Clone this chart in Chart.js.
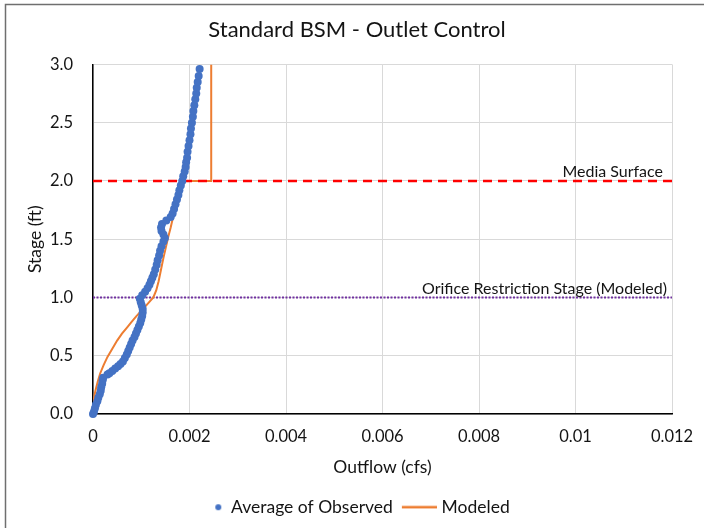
<!DOCTYPE html>
<html>
<head>
<meta charset="utf-8">
<script src="https://cdn.jsdelivr.net/npm/chart.js@4.4.1/dist/chart.umd.min.js"></script>
<style>
  html, body { margin: 0; padding: 0; background: #fff; }
  #chart { display: block; }
</style>
</head>
<body>
<canvas id="chart" width="704" height="528"></canvas>
<script>
// axis ticks
var xTickValues = [0, 0.002, 0.004, 0.006, 0.008, 0.01, 0.012];
var xTickLabels = ['0', '0.002', '0.004', '0.006', '0.008', '0.01', '0.012'];
var yTickValues = [0, 0.5, 1, 1.5, 2, 2.5, 3];
var yTickLabels = ['0.0', '0.5', '1.0', '1.5', '2.0', '2.5', '3.0'];

// average of observed events: stage (ft) vs outflow (cfs)
var observedStage = [
  0.00, 0.02, 0.05, 0.08, 0.11, 0.14, 0.17, 0.20, 0.23, 0.26, 0.29, 0.31,
  0.34, 0.35, 0.37, 0.39, 0.41, 0.43, 0.45, 0.48, 0.51, 0.54, 0.57, 0.60,
  0.63, 0.66, 0.69, 0.72, 0.75, 0.78, 0.81, 0.84, 0.87, 0.90, 0.93, 0.96,
  0.99, 1.02, 1.05, 1.08, 1.11, 1.14, 1.17, 1.20, 1.24, 1.28, 1.32, 1.36,
  1.40, 1.44, 1.48, 1.51, 1.54, 1.57, 1.60, 1.63, 1.66, 1.69, 1.72, 1.76,
  1.80, 1.84, 1.88, 1.92, 1.96, 2.00, 2.04, 2.08, 2.12, 2.16, 2.20, 2.25,
  2.30, 2.35, 2.40, 2.45, 2.50, 2.55, 2.60, 2.65, 2.70, 2.75, 2.80, 2.85,
  2.90, 2.96
];
var observedFlow = [
  0.00000, 0.00002, 0.00004, 0.00006, 0.00009, 0.00011, 0.00014, 0.00016, 0.00017, 0.00019, 0.00020, 0.00021,
  0.00030, 0.00034, 0.00040, 0.00046, 0.00052, 0.00057, 0.00062, 0.00066, 0.00070, 0.00073, 0.00076, 0.00079,
  0.00082, 0.00086, 0.00089, 0.00092, 0.00095, 0.00098, 0.00100, 0.00102, 0.00103, 0.00103, 0.00101, 0.00099,
  0.00097, 0.00102, 0.00108, 0.00113, 0.00117, 0.00120, 0.00123, 0.00126, 0.00129, 0.00132, 0.00134, 0.00137,
  0.00139, 0.00142, 0.00146, 0.00149, 0.00146, 0.00142, 0.00141, 0.00143, 0.00152, 0.00161, 0.00165, 0.00168,
  0.00171, 0.00174, 0.00177, 0.00179, 0.00182, 0.00185, 0.00187, 0.00190, 0.00192, 0.00193, 0.00195, 0.00196,
  0.00198, 0.00200, 0.00202, 0.00203, 0.00205, 0.00207, 0.00208, 0.00210, 0.00212, 0.00214, 0.00215, 0.00217,
  0.00219, 0.00221
];

// modeled rating curve
var modeledFlow = [
  0, 0.000005, 0.00002, 0.00005, 0.0001, 0.00015, 0.00022, 0.0003, 0.0004, 0.0005,
  0.0006, 0.0007, 0.0008, 0.0009, 0.001, 0.0011, 0.00125, 0.00131, 0.00136, 0.00141,
  0.00146, 0.00151, 0.00156, 0.00161, 0.00166, 0.00171, 0.00177, 0.00183, 0.00245, 0.00245
];
var modeledStage = [
  0, 0.05, 0.12, 0.2, 0.28, 0.35, 0.42, 0.49, 0.56, 0.63,
  0.69, 0.74, 0.79, 0.84, 0.885, 0.93, 1.0, 1.06, 1.14, 1.24,
  1.34, 1.43, 1.52, 1.6, 1.69, 1.77, 1.86, 2.0, 2.0, 3.0
];

// horizontal reference stages
var refNames = ['Media Surface', 'Orifice Restriction Stage (Modeled)'];
var refStages = [2.0, 1.0];

var FONT = 'Lato, "Noto Sans", sans-serif';
var TEXT = '#141414';
var BLUE = '#4472C4';
var ORANGE = '#ED7D31';

function pairs(xs, ys) {
  return xs.map(function (x, i) { return { x: x, y: ys[i] }; });
}

function refLine(stage) {
  return [{ x: xTickValues[0], y: stage }, { x: xTickValues[xTickValues.length - 1], y: stage }];
}

// small legend markers
function legendDot() {
  var c = document.createElement('canvas');
  c.width = 36; c.height = 10;
  var g = c.getContext('2d');
  g.fillStyle = BLUE;
  g.beginPath();
  g.arc(32, 5, 3, 0, Math.PI * 2);
  g.fill();
  return c;
}
function legendLine() {
  var c = document.createElement('canvas');
  c.width = 44; c.height = 4;
  var g = c.getContext('2d');
  g.strokeStyle = ORANGE;
  g.lineWidth = 2.5;
  g.beginPath();
  g.moveTo(9, 2);
  g.lineTo(44, 2);
  g.stroke();
  return c;
}

var framePlugin = {
  id: 'frame',
  beforeDraw: function (chart) {
    var ctx = chart.ctx;
    ctx.save();
    ctx.fillStyle = '#fff';
    ctx.fillRect(0, 0, chart.width, chart.height);
    ctx.strokeStyle = '#6f6f6f';
    ctx.lineWidth = 1.5;
    ctx.beginPath();
    ctx.moveTo(5.5, chart.height);
    ctx.lineTo(5.5, 4.5);
    ctx.lineTo(chart.width, 4.5);
    ctx.stroke();
    ctx.restore();
  }
};

// nudge the legend row a little left of the title's centre
var legendShiftPlugin = {
  id: 'legendShift',
  afterLayout: function (chart) {
    if (chart.legend) {
      chart.legend.left -= 9;
      chart.legend.right -= 9;
    }
  }
};

var refLabelPlugin = {
  id: 'refLabels',
  afterDatasetsDraw: function (chart) {
    var ctx = chart.ctx;
    var y = chart.scales.y;
    var right = chart.chartArea.right;
    var shifts = [9, 5];
    ctx.save();
    ctx.font = '16px ' + FONT;
    ctx.fillStyle = TEXT;
    ctx.textAlign = 'right';
    ctx.textBaseline = 'middle';
    refNames.forEach(function (name, i) {
      ctx.fillText(name, right - shifts[i], y.getPixelForValue(refStages[i]) - 9);
    });
    ctx.restore();
  }
};

var ctx = document.getElementById('chart').getContext('2d');
var myChart = new Chart(ctx, {
  type: 'scatter',
  data: {
    datasets: [{
      label: 'Average of Observed',
      data: pairs(observedFlow, observedStage),
      backgroundColor: BLUE,
      borderColor: BLUE,
      pointRadius: 4,
      pointBorderWidth: 0,
      showLine: false,
      clip: 5,
      order: 0
    }, {
      label: refNames[0],
      data: refLine(refStages[0]),
      borderColor: '#FF0000',
      borderWidth: 2.5,
      borderDash: [9, 6],
      pointRadius: 0,
      showLine: true,
      order: 1
    }, {
      label: 'Modeled',
      data: pairs(modeledFlow, modeledStage),
      borderColor: ORANGE,
      backgroundColor: ORANGE,
      borderWidth: 2,
      pointRadius: 0,
      showLine: true,
      tension: 0,
      order: 2
    }, {
      label: refNames[1],
      data: refLine(refStages[1]),
      borderColor: '#7030A0',
      borderWidth: 2,
      borderDash: [2, 1.5],
      pointRadius: 0,
      showLine: true,
      order: 3
    }]
  },
  options: {
    responsive: false,
    animation: false,
    devicePixelRatio: 1,
    layout: { padding: { top: 0, left: 10, right: 0, bottom: 2 } },
    plugins: {
      title: {
        display: true,
        text: 'Standard BSM - Outlet Control',
        color: TEXT,
        font: { family: FONT, size: 22, weight: 'normal' },
        padding: { top: 17, bottom: 21 }
      },
      legend: {
        position: 'bottom',
        labels: {
          usePointStyle: true,
          pointStyleWidth: 36,
          padding: 4,
          color: TEXT,
          font: { family: FONT, size: 17.5 },
          generateLabels: function (chart) {
            return [
              { text: 'Average of Observed', pointStyle: legendDot(), fontColor: TEXT, datasetIndex: 0, lineWidth: 0 },
              { text: 'Modeled', pointStyle: legendLine(), fontColor: TEXT, datasetIndex: 2, lineWidth: 0 }
            ];
          }
        }
      },
      tooltip: { enabled: false }
    },
    scales: {
      x: {
        type: 'linear',
        min: 0,
        max: 0.012,
        afterBuildTicks: function (scale) {
          scale.ticks = xTickValues.map(function (v) { return { value: v }; });
        },
        afterFit: function (scale) {
          scale.height = 80.5;
          // room right of the plot, past the last tick label
          scale.paddingRight = 32;
        },
        ticks: {
          padding: 13,
          color: TEXT,
          font: { family: FONT, size: 16.5 },
          maxRotation: 0,
          callback: function (value, index) { return xTickLabels[index]; }
        },
        grid: { color: '#d9d9d9', lineWidth: 1, drawTicks: false },
        border: { color: '#000', width: 1.5 },
        title: {
          display: true,
          text: 'Outflow (cfs)',
          color: TEXT,
          font: { family: FONT, size: 17.5 },
          padding: { top: 4, bottom: 17 }
        }
      },
      y: {
        type: 'linear',
        min: 0,
        max: 3,
        afterBuildTicks: function (scale) {
          scale.ticks = yTickValues.map(function (v) { return { value: v }; });
        },
        afterFit: function (scale) { scale.width = 83; },
        ticks: {
          padding: 20,
          color: TEXT,
          font: { family: FONT, size: 16.5 },
          callback: function (value, index) { return yTickLabels[index]; }
        },
        grid: { color: '#d9d9d9', lineWidth: 1, drawTicks: false },
        border: { color: '#000', width: 1.5 },
        title: {
          display: true,
          text: 'Stage (ft)',
          color: TEXT,
          font: { family: FONT, size: 17.5 },
          padding: { top: 14.5, bottom: 4 }
        }
      }
    }
  },
  plugins: [framePlugin, legendShiftPlugin, refLabelPlugin]
});
</script>
</body>
</html>
